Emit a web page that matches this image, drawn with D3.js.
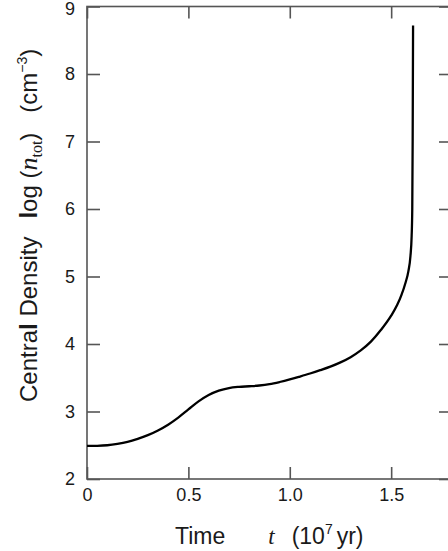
<!DOCTYPE html>
<html><head><meta charset="utf-8">
<script src="https://cdn.jsdelivr.net/npm/d3@7"></script>
<style>body{margin:0;background:#fff}svg{display:block}text{font-family:"Liberation Sans",Arial,sans-serif;fill:#1a1a1a}</style>
</head><body>
<script>
const timeValues = [0, 0.05, 0.1, 0.15, 0.2, 0.25, 0.3, 0.35, 0.4, 0.45, 0.5, 0.55, 0.6, 0.65, 0.7, 0.75, 0.8, 0.85, 0.9, 0.95, 1.0, 1.05, 1.1, 1.15, 1.2, 1.25, 1.3, 1.35, 1.4, 1.45, 1.5, 1.53, 1.55, 1.57, 1.585, 1.595, 1.601, 1.604, 1.606, 1.608];
const logDensity = [2.49, 2.492, 2.50, 2.52, 2.55, 2.595, 2.65, 2.72, 2.805, 2.91, 3.03, 3.15, 3.245, 3.31, 3.348, 3.365, 3.374, 3.385, 3.405, 3.437, 3.475, 3.518, 3.563, 3.612, 3.665, 3.728, 3.805, 3.905, 4.035, 4.21, 4.42, 4.58, 4.72, 4.90, 5.08, 5.30, 5.60, 6.0, 7.0, 8.72];
const xTicks = [0, 0.5, 1.0, 1.5];
const xTickLabels = ["0", "0.5", "1.0", "1.5"];
const yTicks = [2, 3, 4, 5, 6, 7, 8, 9];
const yTickLabels = ["2", "3", "4", "5", "6", "7", "8", "9"];

const W = 448, H = 551;
const L = 87, R = 452, T = 6.5, B = 479;
const svg = d3.select("body").append("svg").attr("width", W).attr("height", H);
const x = d3.scaleLinear().domain([0, 1.8]).range([L, R]);
const y = d3.scaleLinear().domain([2, 9]).range([B, T]);

const axisColor = "#555";
svg.append("rect").attr("x", L).attr("y", T).attr("width", R - L).attr("height", B - T)
  .attr("fill", "none").attr("stroke", axisColor).attr("stroke-width", 1.6);

const gx = svg.append("g").attr("transform", `translate(0,${B})`)
  .call(d3.axisBottom(x).tickValues(xTicks).tickSizeInner(-12).tickSizeOuter(0).tickPadding(9)
    .tickFormat((d, i) => xTickLabels[i]));
const gxt = svg.append("g").attr("transform", `translate(0,${T})`)
  .call(d3.axisTop(x).tickValues(xTicks).tickSizeInner(-12).tickSizeOuter(0).tickFormat(""));
const gy = svg.append("g").attr("transform", `translate(${L},0)`)
  .call(d3.axisLeft(y).tickValues(yTicks).tickSizeInner(-13).tickSizeOuter(0).tickPadding(12)
    .tickFormat((d, i) => yTickLabels[i]));
const gyr = svg.append("g").attr("transform", `translate(${R},0)`)
  .call(d3.axisRight(y).tickValues(yTicks).tickSizeInner(-13).tickSizeOuter(0).tickFormat(""));
[gx, gxt, gy, gyr].forEach(g => {
  g.select(".domain").remove();
  g.selectAll(".tick line").attr("stroke", axisColor).attr("stroke-width", 1.6);
  g.selectAll(".tick text").attr("font-size", 18).attr("fill", "#1a1a1a")
    .attr("font-family", "Liberation Sans, Arial, sans-serif");
});
gy.selectAll(".tick text").filter(d => d === 9).attr("dy", "0.45em");

const line = d3.line().x(d => x(d[0])).y(d => y(d[1])).curve(d3.curveMonotoneX);
svg.append("path").datum(timeValues.map((t, i) => [t, logDensity[i]]))
  .attr("d", line).attr("fill", "none").attr("stroke", "#000").attr("stroke-width", 2.3);

// x title
const xt = svg.append("text").attr("x", 175).attr("y", 544).attr("font-size", 23);
xt.append("tspan").text("Time");
xt.append("tspan").attr("dx", 43).attr("font-family", "Liberation Serif, serif").attr("font-style", "italic").text("t");
xt.append("tspan").attr("dx", 17).text("(10");
xt.append("tspan").attr("dy", -10).attr("font-size", 14).text("7");
xt.append("tspan").attr("dy", 10).attr("dx", 4).text("yr)");

// y title
const yt = svg.append("text").attr("transform", "translate(37,402) rotate(-90)").attr("font-size", 24);
yt.append("tspan").text("Centra");
yt.append("tspan").attr("font-weight", "bold").text("l");
yt.append("tspan").text(" Density");
yt.append("tspan").attr("dx", 18).attr("font-weight", "bold").text("l");
yt.append("tspan").text("og (");
yt.append("tspan").attr("font-family", "Liberation Serif, serif").attr("font-style", "italic").attr("font-size", 26).text("n");
yt.append("tspan").attr("dy", 5).attr("font-family", "Liberation Serif, serif").attr("font-size", 16).text("tot");
yt.append("tspan").attr("dy", -5).text(")");
yt.append("tspan").attr("dx", 20).text("(cm");
yt.append("tspan").attr("dy", -10).attr("font-size", 14).text("−3");
yt.append("tspan").attr("dy", 10).text(")");
</script>
</body></html>
